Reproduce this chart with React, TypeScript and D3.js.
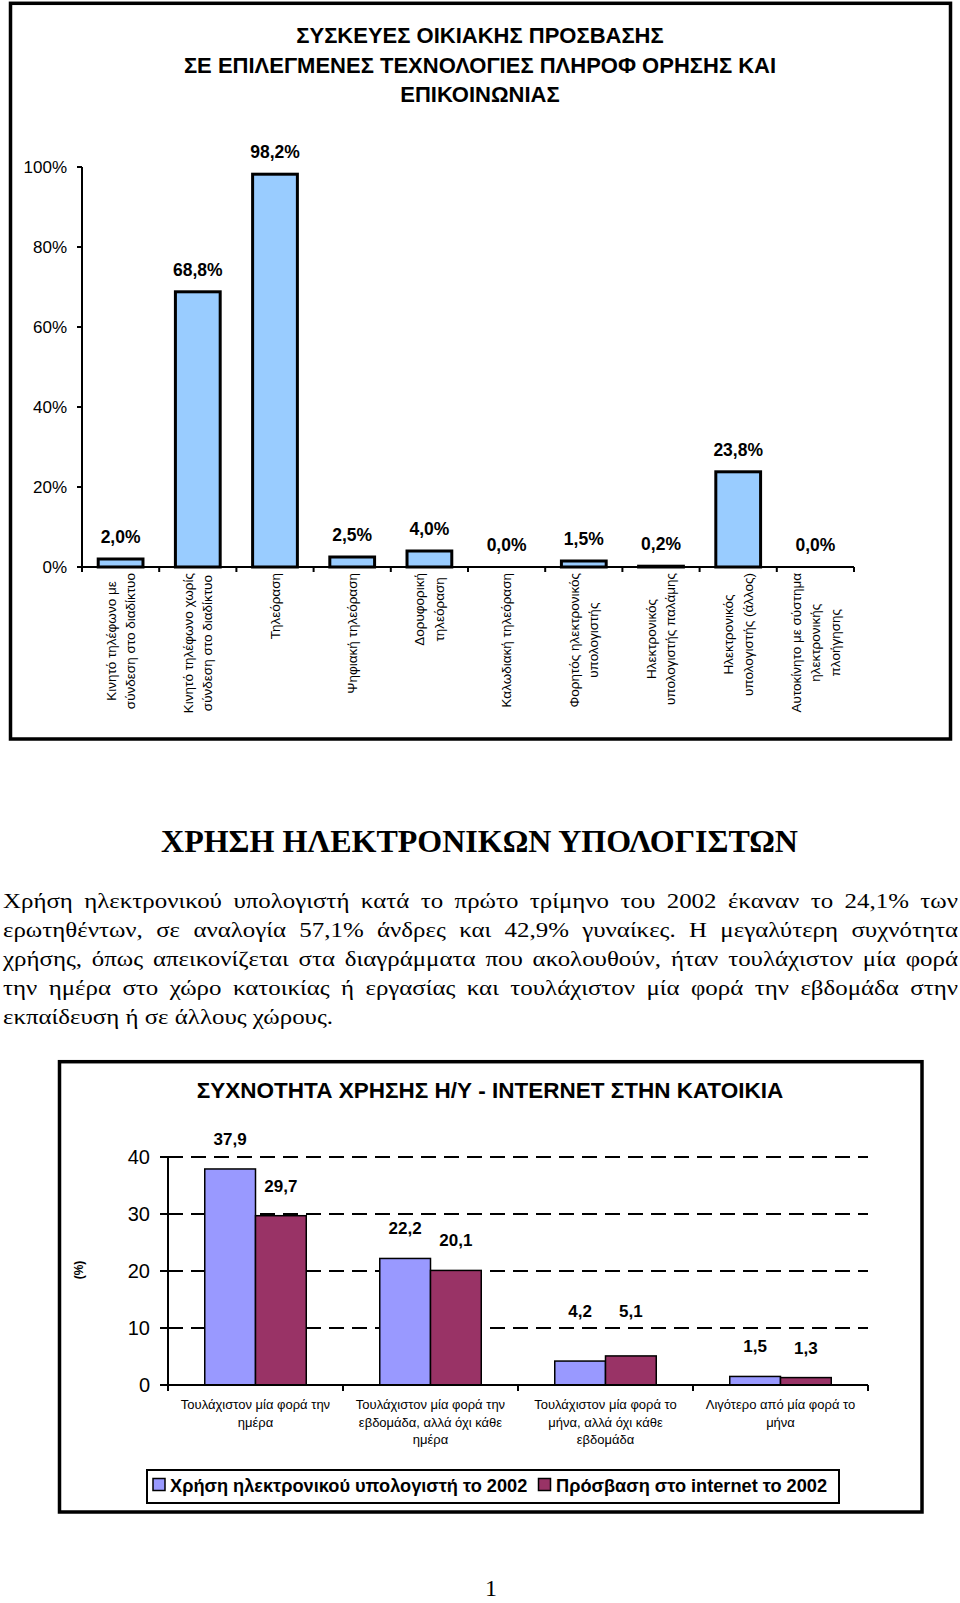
import React from "react";
import * as d3 from "d3";

// ---------- Chart 1 data ----------
const title1Lines = [
  "ΣΥΣΚΕΥΕΣ ΟΙΚΙΑΚΗΣ ΠΡΟΣΒΑΣΗΣ",
  "ΣΕ ΕΠΙΛΕΓΜΕΝΕΣ ΤΕΧΝΟΛΟΓΙΕΣ ΠΛΗΡΟΦ ΟΡΗΣΗΣ ΚΑΙ",
  "ΕΠΙΚΟΙΝΩΝΙΑΣ",
];
const devices = [
  ["Κινητό τηλέφωνο με", "σύνδεση στο διαδίκτυο"],
  ["Κινητό τηλέφωνο χωρίς", "σύνδεση στο διαδίκτυο"],
  ["Τηλεόραση"],
  ["Ψηφιακή τηλεόραση"],
  ["Δορυφορική", "τηλεόραση"],
  ["Καλωδιακή τηλεόραση"],
  ["Φορητός ηλεκτρονικός", "υπολογιστής"],
  ["Ηλεκτρονικός", "υπολογιστής παλάμης"],
  ["Ηλεκτρονικός", "υπολογιστής (άλλος)"],
  ["Αυτοκίνητο με σύστημα", "ηλεκτρονικής", "πλοήγησης"],
];
const deviceValues = [2.0, 68.8, 98.2, 2.5, 4.0, 0.0, 1.5, 0.2, 23.8, 0.0];
const pctTicks = [0, 20, 40, 60, 80, 100];

// ---------- Text block ----------
const heading = "ΧΡΗΣΗ ΗΛΕΚΤΡΟΝΙΚΩΝ ΥΠΟΛΟΓΙΣΤΩΝ";
const paragraphLines = [
  "Χρήση ηλεκτρονικού υπολογιστή κατά το πρώτο τρίμηνο του 2002 έκαναν το 24,1% των",
  "ερωτηθέντων, σε αναλογία 57,1% άνδρες και 42,9% γυναίκες. Η μεγαλύτερη συχνότητα",
  "χρήσης, όπως απεικονίζεται στα διαγράμματα που ακολουθούν, ήταν τουλάχιστον μία φορά",
  "την ημέρα στο χώρο κατοικίας ή εργασίας και τουλάχιστον μία φορά την εβδομάδα στην",
  "εκπαίδευση ή σε άλλους χώρους.",
];

// ---------- Chart 2 data ----------
const title2 = "ΣΥΧΝΟΤΗΤΑ ΧΡΗΣΗΣ Η/Υ - INTERNET ΣΤΗΝ ΚΑΤΟΙΚΙΑ";
const frequencies = [
  ["Τουλάχιστον μία φορά την", "ημέρα"],
  ["Τουλάχιστον μία φορά την", "εβδομάδα, αλλά όχι κάθε", "ημέρα"],
  ["Τουλάχιστον μία φορά το", "μήνα, αλλά όχι κάθε", "εβδομάδα"],
  ["Λιγότερο από μία φορά το", "μήνα"],
];
const seriesNames = ["Χρήση ηλεκτρονικού υπολογιστή το 2002", "Πρόσβαση στο internet το 2002"];
const computerUse = [37.9, 22.2, 4.2, 1.5];
const internetAccess = [29.7, 20.1, 5.1, 1.3];
const freqTicks = [0, 10, 20, 30, 40];
const pageNumber = "1";

const SANS = '"Liberation Sans", Arial, Helvetica, sans-serif';
const SERIF = '"Liberation Serif", "Times New Roman", Times, serif';

let _ctx: CanvasRenderingContext2D | null = null;
function textWidth(s: string, size: number, weight = "normal", family = SANS) {
  if (!_ctx) _ctx = document.createElement("canvas").getContext("2d");
  if (!_ctx) return s.length * size * 0.5;
  _ctx.font = `${weight} ${size}px ${family}`;
  return _ctx.measureText(s).width;
}

const fmt = (v: number) => v.toFixed(1).replace(".", ",");

function Chart1() {
  const x = d3.scaleBand<number>().domain(d3.range(devices.length)).range([82, 854]).padding(0);
  const y = d3.scaleLinear().domain([0, 100]).range([567, 167]);
  const bw = x.bandwidth() * 0.58;
  const labelSize = 13.5;
  const lineGap = 19.5;
  return (
    <g>
      <rect x={10.5} y={3.3} width={940} height={735.7} fill="#fff" stroke="#000" strokeWidth={3.5} />
      {title1Lines.map((t, i) => (
        <text key={i} x={480} y={43 + i * 29.5} textAnchor="middle" fontFamily={SANS} fontWeight="bold" fontSize={22}>
          {t}
        </text>
      ))}
      {/* y axis */}
      <line x1={82} x2={82} y1={y(100)} y2={y(0)} stroke="#000" strokeWidth={2} />
      {pctTicks.map((t) => (
        <g key={t}>
          <line x1={77} x2={82} y1={y(t)} y2={y(t)} stroke="#000" strokeWidth={2} />
          <text x={67} y={y(t) + 6} textAnchor="end" fontFamily={SANS} fontSize={17}>
            {t}%
          </text>
        </g>
      ))}
      {/* bars */}
      {deviceValues.map((v, i) => {
        const cx = (x(i) as number) + x.bandwidth() / 2;
        return v > 0 ? (
          <rect key={i} x={cx - bw / 2} y={y(v)} width={bw} height={y(0) - y(v)} fill="#99CCFF" stroke="#000" strokeWidth={3} />
        ) : null;
      })}
      {/* x axis */}
      <line x1={82} x2={854} y1={y(0)} y2={y(0)} stroke="#000" strokeWidth={2} />
      {d3.range(devices.length + 1).map((i) => {
        const xx = 82 + i * x.step();
        return <line key={i} x1={xx} x2={xx} y1={y(0)} y2={y(0) + 5} stroke="#000" strokeWidth={2} />;
      })}
      {/* value labels */}
      {deviceValues.map((v, i) => {
        const cx = (x(i) as number) + x.bandwidth() / 2;
        return (
          <text key={i} x={cx} y={y(v) - 16} textAnchor="middle" fontFamily={SANS} fontWeight="bold" fontSize={17.5}>
            {fmt(v)}%
          </text>
        );
      })}
      {/* category labels */}
      {devices.map((lines, i) => {
        const cx = (x(i) as number) + x.bandwidth() / 2;
        const maxW = Math.max(...lines.map((l) => textWidth(l, labelSize)));
        const cy = 573 + maxW / 2;
        return lines.map((l, j) => {
          const lx = cx + (j - (lines.length - 1) / 2) * lineGap;
          return (
            <text
              key={i + "-" + j}
              transform={`translate(${lx},${cy}) rotate(-90)`}
              textAnchor="middle"
              dy="0.35em"
              fontFamily={SANS}
              fontSize={labelSize}
            >
              {l}
            </text>
          );
        });
      })}
    </g>
  );
}

function TextBlock() {
  const size = 22;
  const left = 3;
  const right = 958;
  const lastLineWidth = 330;
  const lastLine = paragraphLines[paragraphLines.length - 1];
  const stretch = lastLineWidth / textWidth(lastLine, size, "normal", SERIF);
  return (
    <g>
      <text x={479.5} y={852} textAnchor="middle" fontFamily={SERIF} fontWeight="bold" fontSize={32}>
        {heading}
      </text>
      {paragraphLines.map((line, i) => {
        const yy = 908 + i * 29;
        const last = i === paragraphLines.length - 1;
        const words = line.split(" ");
        const widths = words.map((w) => textWidth(w, size, "normal", SERIF) * stretch);
        const spaceW = textWidth(" ", size, "normal", SERIF) * stretch;
        const total = d3.sum(widths);
        const gap = last ? spaceW : (right - left - total) / (words.length - 1);
        let cur = left;
        return (
          <g key={i}>
            {words.map((w, k) => {
              const el = (
                <text
                  key={k}
                  x={cur}
                  y={yy}
                  fontFamily={SERIF}
                  fontSize={size}
                  textLength={widths[k]}
                  lengthAdjust="spacingAndGlyphs"
                >
                  {w}
                </text>
              );
              cur += widths[k] + gap;
              return el;
            })}
          </g>
        );
      })}
    </g>
  );
}

function Chart2() {
  const x0 = d3.scaleBand<number>().domain(d3.range(frequencies.length)).range([168, 868]).padding(0);
  const groupW = x0.bandwidth() * 0.58;
  const x1 = d3.scaleBand<number>().domain([0, 1]).range([0, groupW]).padding(0);
  const y = d3.scaleLinear().domain([0, 40]).range([1385, 1157]);
  const colors = ["#9999FF", "#993366"];
  const series = [computerUse, internetAccess];
  const grid = freqTicks.filter((t) => t > 0);
  // label baseline above the bar; lifted above a gridline it would otherwise cross
  const labelY = (v: number) => {
    let b = y(v) - 24;
    for (const g of grid) {
      const gy = y(g);
      if (gy > b - 14 && gy < b + 2) b = gy - 11;
    }
    return b;
  };
  return (
    <g>
      <rect x={59.5} y={1061.7} width={862.5} height={450.3} fill="#fff" stroke="#000" strokeWidth={3.5} />
      <text x={490} y={1098} textAnchor="middle" fontFamily={SANS} fontWeight="bold" fontSize={22.5}>
        {title2}
      </text>
      {/* gridlines */}
      {grid.map((t) => (
        <line key={t} x1={168} x2={868} y1={y(t)} y2={y(t)} stroke="#000" strokeWidth={2} strokeDasharray="15,8" />
      ))}
      {/* bars */}
      {frequencies.map((_, i) =>
        series.map((s, k) => (
          <rect
            key={i + "-" + k}
            x={(x0(i) as number) + (x0.bandwidth() - groupW) / 2 + (x1(k) as number)}
            y={y(s[i])}
            width={x1.bandwidth()}
            height={y(0) - y(s[i])}
            fill={colors[k]}
            stroke="#000"
            strokeWidth={1.5}
          />
        ))
      )}
      {/* axes */}
      <line x1={168} x2={168} y1={y(40)} y2={y(0)} stroke="#000" strokeWidth={2} />
      {freqTicks.map((t) => (
        <g key={t}>
          <line x1={160} x2={168} y1={y(t)} y2={y(t)} stroke="#000" strokeWidth={2} />
          <text x={150} y={y(t) + 7} textAnchor="end" fontFamily={SANS} fontSize={20}>
            {t}
          </text>
        </g>
      ))}
      <line x1={168} x2={868} y1={y(0)} y2={y(0)} stroke="#000" strokeWidth={2} />
      {d3.range(frequencies.length + 1).map((i) => {
        const xx = 168 + i * x0.step();
        return <line key={i} x1={xx} x2={xx} y1={y(0)} y2={y(0) + 6} stroke="#000" strokeWidth={2} />;
      })}
      <text transform={`translate(79,1270) rotate(-90)`} textAnchor="middle" dy="0.35em" fontFamily={SANS} fontWeight="bold" fontSize={12}>
        (%)
      </text>
      {/* value labels */}
      {frequencies.map((_, i) =>
        series.map((s, k) => (
          <text
            key={i + "-" + k}
            x={(x0(i) as number) + (x0.bandwidth() - groupW) / 2 + (x1(k) as number) + x1.bandwidth() / 2}
            y={labelY(s[i])}
            textAnchor="middle"
            fontFamily={SANS}
            fontWeight="bold"
            fontSize={17}
          >
            {fmt(s[i])}
          </text>
        ))
      )}
      {/* category labels */}
      {frequencies.map((lines, i) =>
        lines.map((l, j) => (
          <text
            key={i + "-" + j}
            x={(x0(i) as number) + x0.bandwidth() / 2}
            y={1409 + j * 17.5}
            textAnchor="middle"
            fontFamily={SANS}
            fontSize={13}
          >
            {l}
          </text>
        ))
      )}
      {/* legend */}
      <rect x={147} y={1470} width={692} height={33} fill="#fff" stroke="#000" strokeWidth={2} />
      <rect x={153} y={1478.5} width={12} height={12} fill={colors[0]} stroke="#000" strokeWidth={1.5} />
      <text x={170} y={1492} fontFamily={SANS} fontWeight="bold" fontSize={18.2}>
        {seriesNames[0]}
      </text>
      <rect x={538.5} y={1478.5} width={12} height={12} fill={colors[1]} stroke="#000" strokeWidth={1.5} />
      <text x={556} y={1492} fontFamily={SANS} fontWeight="bold" fontSize={18.2}>
        {seriesNames[1]}
      </text>
    </g>
  );
}

export default function App() {
  return (
    <svg
      width={960}
      height={1603}
      viewBox="0 0 960 1603"
      style={{ position: "absolute", left: 0, top: 0, background: "#fff" }}
    >
      <rect x={0} y={0} width={960} height={1603} fill="#fff" />
      <Chart1 />
      <TextBlock />
      <Chart2 />
      <text x={491} y={1596} textAnchor="middle" fontFamily={SERIF} fontSize={24}>
        {pageNumber}
      </text>
    </svg>
  );
}
